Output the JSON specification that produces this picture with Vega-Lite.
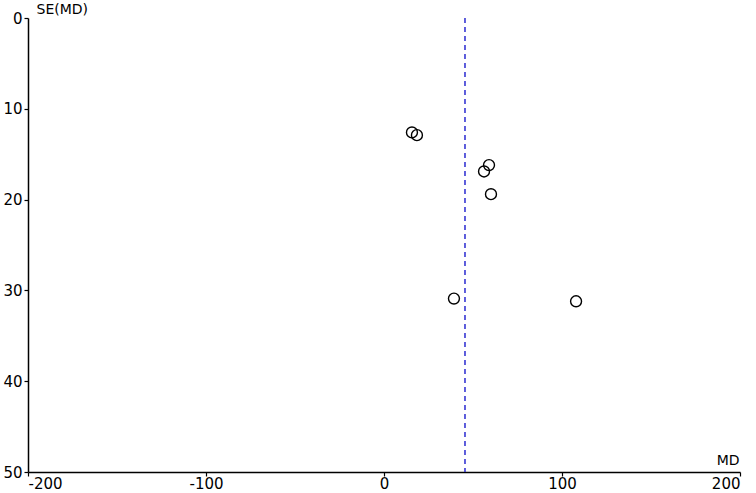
{
  "$schema": "https://vega.github.io/schema/vega-lite/v6.json",
  "width": 712,
  "height": 454,
  "autosize": {"type": "none"},
  "padding": {"left": 28, "top": 18, "right": 16, "bottom": 21},
  "background": "white",
  "config": {
    "view": {"stroke": null},
    "axis": {
      "grid": false,
      "domainColor": "black",
      "domainWidth": 1.5,
      "tickColor": "black",
      "tickWidth": 1.2,
      "tickSize": 4,
      "labelFont": "DejaVu Sans",
      "labelFontSize": 15,
      "labelColor": "black",
      "titleFont": "DejaVu Sans",
      "titleFontSize": 14,
      "titleFontWeight": "normal",
      "titleColor": "black"
    }
  },
  "datasets": {
    "studies": [
      {"md": 15.7, "se": 12.6},
      {"md": 18.5, "se": 12.9},
      {"md": 59.0, "se": 16.2},
      {"md": 56.2, "se": 16.9},
      {"md": 60.1, "se": 19.4},
      {"md": 39.3, "se": 30.9},
      {"md": 107.9, "se": 31.2}
    ],
    "pooled": [{"md": 45.5}]
  },
  "layer": [
    {
      "data": {"name": "pooled"},
      "mark": {"type": "rule", "color": "#2b2bd0", "strokeWidth": 1.5, "strokeDash": [5, 4]},
      "encoding": {
        "x": {"field": "md", "type": "quantitative", "scale": {"domain": [-200, 200]}}
      }
    },
    {
      "data": {"name": "studies"},
      "mark": {"type": "point", "shape": "circle", "filled": false, "stroke": "black", "strokeWidth": 1.4, "size": 120, "opacity": 1},
      "encoding": {
        "x": {
          "field": "md", "type": "quantitative",
          "scale": {"domain": [-200, 200], "nice": false, "zero": false},
          "axis": {
            "values": [-200, -100, 0, 100, 200],
            "labelExpr": "replace(datum.label, '\u2212', '-')",
            "labelPadding": 0,
            "title": "MD",
            "titleAnchor": "end",
            "titleAlign": "right",
            "titleBaseline": "alphabetic",
            "titleX": 711,
            "titleY": -8
          }
        },
        "y": {
          "field": "se", "type": "quantitative",
          "scale": {"domain": [0, 50], "reverse": true, "nice": false, "zero": false},
          "axis": {
            "values": [0, 10, 20, 30, 40, 50],
            "labelPadding": 2,
            "title": "SE(MD)",
            "titleAngle": 0,
            "titleAlign": "left",
            "titleBaseline": "alphabetic",
            "titleX": 8,
            "titleY": -5
          }
        }
      }
    }
  ]
}
